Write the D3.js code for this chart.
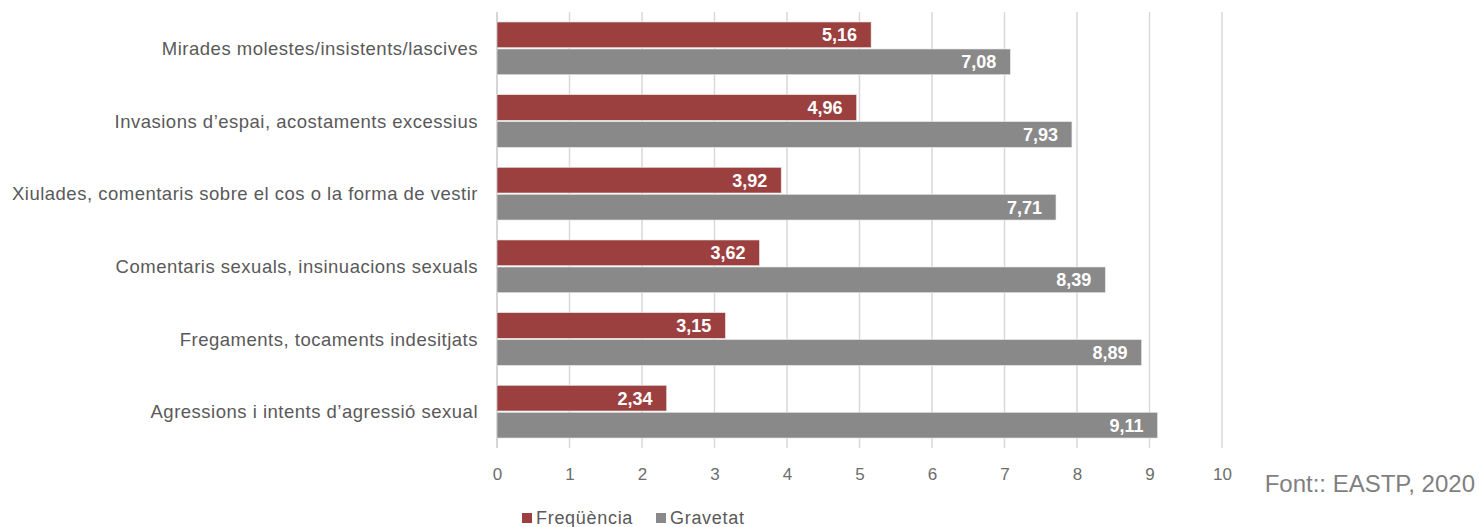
<!DOCTYPE html>
<html>
<head>
<meta charset="utf-8">
<script src="https://cdn.jsdelivr.net/npm/d3@7"></script>
<style>
  body { margin: 0; background: #fff; }
  text { font-family: "Liberation Sans", Arial, sans-serif; }
</style>
</head>
<body>
<div id="viz"></div>
<script>
// data
var categories = [
  "Mirades molestes/insistents/lascives",
  "Invasions d\u2019espai, acostaments  excessius",
  "Xiulades, comentaris sobre el cos o la forma de vestir",
  "Comentaris sexuals, insinuacions sexuals",
  "Fregaments, tocaments indesitjats",
  "Agressions  i intents d\u2019agressi\u00f3 sexual"
];
var frequencia = [5.16, 4.96, 3.92, 3.62, 3.15, 2.34];
var gravetat = [7.08, 7.93, 7.71, 8.39, 8.89, 9.11];
var seriesNames = ["Freq\u00fc\u00e8ncia", "Gravetat"];
var xTicks = [0, 1, 2, 3, 4, 5, 6, 7, 8, 9, 10];

var width = 1479, height = 527;
var colors = ["#9c403f", "#898989"];

var svg = d3.select("#viz").append("svg")
  .attr("width", width)
  .attr("height", height);

var x = d3.scaleLinear().domain([0, 10]).range([497, 1222]);
var y = d3.scaleBand().domain(categories).range([12, 448]).paddingInner(0.275).paddingOuter(0.1375);
var sub = d3.scaleBand().domain(seriesNames).range([0, y.bandwidth()]).paddingInner(0.05);

// gridlines
svg.append("g")
  .selectAll("line")
  .data(xTicks)
  .enter().append("line")
  .attr("x1", function(d) { return x(d); })
  .attr("x2", function(d) { return x(d); })
  .attr("y1", 12)
  .attr("y2", 448)
  .attr("stroke", function(d) { return d == 0 ? "#c8c8c8" : "#d9d9d9"; })
  .attr("stroke-width", 1.5);

// bars
var rows = categories.map(function(c, i) {
  return { cat: c, vals: [frequencia[i], gravetat[i]] };
});

var row = svg.selectAll(".row")
  .data(rows)
  .enter().append("g")
  .attr("class", "row")
  .attr("transform", function(d) { return "translate(0," + y(d.cat) + ")"; });

row.selectAll("rect")
  .data(function(d) { return d.vals; })
  .enter().append("rect")
  .attr("x", x(0))
  .attr("y", function(d, i) { return sub(seriesNames[i]); })
  .attr("width", function(d) { return x(d) - x(0); })
  .attr("height", sub.bandwidth())
  .attr("fill", function(d, i) { return colors[i]; })
  .attr("stroke", "#e6e6e6")
  .attr("stroke-width", 0.6);

row.selectAll(".val")
  .data(function(d) { return d.vals; })
  .enter().append("text")
  .attr("class", "val")
  .attr("x", function(d) { return x(d) - 14; })
  .attr("y", function(d, i) { return sub(seriesNames[i]) + sub.bandwidth() / 2; })
  .attr("dy", "0.36em")
  .attr("text-anchor", "end")
  .attr("fill", "#fff")
  .attr("font-weight", "bold")
  .attr("font-size", 18)
  .text(function(d) { return d3.format(".2f")(d).replace(".", ","); });

// category labels
svg.append("g")
  .selectAll("text")
  .data(categories)
  .enter().append("text")
  .attr("x", 478)
  .attr("y", function(d) { return y(d) + y.bandwidth() / 2; })
  .attr("dy", "0.36em")
  .attr("text-anchor", "end")
  .attr("fill", "#595959")
  .attr("font-size", 18.5)
  .attr("letter-spacing", 0.5)
  .text(function(d) { return d; });

// x axis
var xAxis = d3.axisBottom(x).tickValues(xTicks).tickSize(0).tickPadding(0);
var ax = svg.append("g")
  .attr("transform", "translate(0,474)")
  .call(xAxis);
ax.select(".domain").remove();
ax.selectAll("text")
  .attr("dy", "0.36em")
  .attr("font-size", 17)
  .attr("font-family", "Liberation Sans, Arial, sans-serif")
  .attr("fill", "#6d6d6d");

// source
svg.append("text")
  .attr("x", 1475)
  .attr("y", 483)
  .attr("dy", "0.36em")
  .attr("text-anchor", "end")
  .attr("font-size", 24)
  .attr("fill", "#7f7f7f")
  .text("Font:: EASTP, 2020");

// legend
var legend = svg.append("g").attr("transform", "translate(522,518)");
var legX = [0, 134];
var item = legend.selectAll("g")
  .data(seriesNames)
  .enter().append("g")
  .attr("transform", function(d, i) { return "translate(" + legX[i] + ",0)"; });
item.append("rect")
  .attr("x", 0)
  .attr("y", -5)
  .attr("width", 10)
  .attr("height", 10)
  .attr("fill", function(d, i) { return colors[i]; });
item.append("text")
  .attr("x", 14)
  .attr("y", 0)
  .attr("dy", "0.36em")
  .attr("font-size", 18)
  .attr("letter-spacing", 0.7)
  .attr("fill", "#595959")
  .text(function(d) { return d; });
</script>
</body>
</html>
